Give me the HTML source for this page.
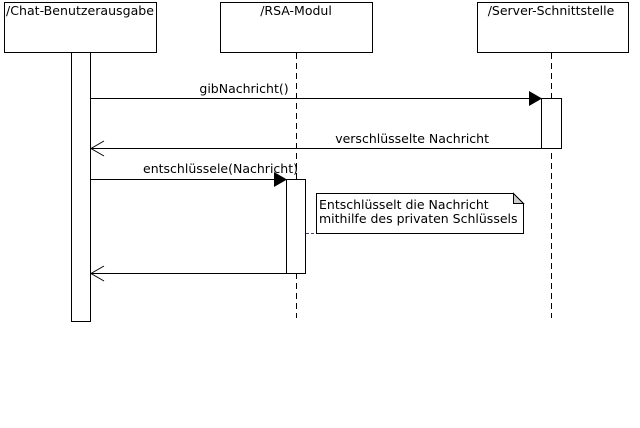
<!DOCTYPE html>
<html><head><meta charset="utf-8"><style>
html,body{margin:0;padding:0;background:#fff;width:640px;height:428px;overflow:hidden}
text{font-family:"DejaVu Sans","Liberation Sans",sans-serif;font-size:12.5px;fill:#000}
</style></head><body>
<svg width="640" height="428" xmlns="http://www.w3.org/2000/svg" shape-rendering="crispEdges">
<g fill="#fff" stroke="#000" stroke-width="1">
<rect x="4.5" y="2.5" width="152" height="50"/>
<rect x="220.5" y="2.5" width="152" height="50"/>
<rect x="477.5" y="2.5" width="151" height="50"/>
</g>
<text x="6" y="15" textLength="148" lengthAdjust="spacingAndGlyphs">/Chat-Benutzerausgabe</text>
<text x="296" y="15" text-anchor="middle">/RSA-Modul</text>
<text x="551" y="15" text-anchor="middle">/Server-Schnittstelle</text>
<g stroke="#000" stroke-dasharray="6,4">
<line x1="296.5" y1="53" x2="296.5" y2="318"/>
<line x1="551.5" y1="53" x2="551.5" y2="318"/>
</g>
<rect x="71.5" y="52.5" width="19" height="269" fill="#fff" stroke="#000"/>
<line x1="91" y1="98.5" x2="541" y2="98.5" stroke="#000"/>
<polygon points="529,91 542,98.5 529,106" fill="#000" shape-rendering="auto"/>
<text x="244" y="93" text-anchor="middle">gibNachricht()</text>
<rect x="541.5" y="98.5" width="20" height="50" fill="#fff" stroke="#000"/>
<line x1="91" y1="148.5" x2="541" y2="148.5" stroke="#000"/>
<polyline points="104,141 91,148.5 104,156" fill="none" stroke="#000" shape-rendering="auto"/>
<text x="489" y="143" text-anchor="end">verschlüsselte Nachricht</text>
<line x1="91" y1="179.5" x2="286" y2="179.5" stroke="#000"/>
<polygon points="274,172 287,179.5 274,187" fill="#000" shape-rendering="auto"/>
<text x="298" y="173" text-anchor="end">entschlüssele(Nachricht)</text>
<rect x="286.5" y="179.5" width="19" height="94" fill="#fff" stroke="#000"/>
<line x1="91" y1="273.5" x2="286" y2="273.5" stroke="#000"/>
<polyline points="104,266 91,273.5 104,281" fill="none" stroke="#000" shape-rendering="auto"/>
<line x1="306" y1="233.5" x2="316" y2="233.5" stroke="#447" stroke-dasharray="3,2"/>
<path d="M316.5 193.5 H513.5 L523.5 203.5 V233.5 H316.5 Z" fill="#fff" stroke="#000"/>
<path d="M513.5 193.5 V203.5 H523.5 Z" fill="#ccc" stroke="#000"/>
<text x="319" y="209">Entschlüsselt die Nachricht</text>
<text x="319" y="223">mithilfe des privaten Schlüssels</text>
</svg>
</body></html>
